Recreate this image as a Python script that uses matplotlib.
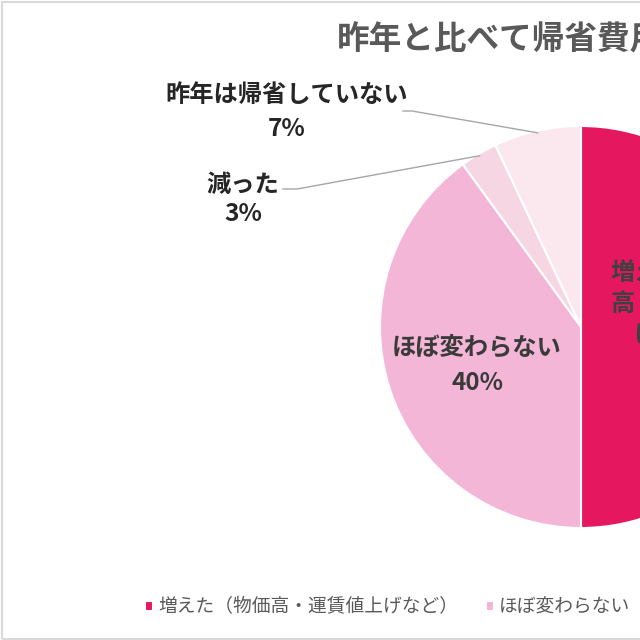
import numpy as np
import matplotlib
matplotlib.use("Agg")
from matplotlib import pyplot as plt
from matplotlib.patches import Rectangle

plt.rcParams['font.family'] = ['Noto Sans CJK JP', 'DejaVu Sans']

# データ
categories = ["増えた（物価高・運賃値上げなど）", "ほぼ変わらない", "減った", "昨年は帰省していない"]
shares = [50, 40, 3, 7]
colors = ["#E5185F", "#F4B6D6", "#F6D6E2", "#FBE8EF"]
title = "昨年と比べて帰省費用は"

fig = plt.figure(figsize=(6.4, 6.4), dpi=100)
ax = fig.add_axes([0, 0, 1, 1])

cx, cy, r = 581, 327, 201
# y軸を反転させるので startangle=-90 が真上、counterclock=True で時計回りに見える
wedges, _ = ax.pie(shares, colors=colors, startangle=-90, counterclock=True,
                   center=(cx, cy), radius=r, frame=True,
                   wedgeprops=dict(edgecolor='white', linewidth=1.5))
ax.set_xlim(0, 640)
ax.set_ylim(640, 0)  # ピクセル座標（上が0）
ax.axis('off')

# 外枠
fig.patches.append(Rectangle((1.5 / 640, 1.5 / 640), 1.2, 1 - 3.5 / 640,
                             transform=fig.transFigure, fill=False,
                             edgecolor='#d9d9d9', linewidth=1.5))

# タイトル
ax.text(337, 40, title, fontsize=23.5, fontweight='bold', color='#595959',
        ha='left', va='center')

lab_kw = dict(fontsize=17.5, fontweight='bold', va='center')

# 増えた（扇の内側）: ブロックの左端を固定し、各行は中央揃え
ax.text(610, 320, "増えた（物価\n高・運賃値上\nげなど）\n" + f"{shares[0]}%",
        color='#404040', linespacing=1.35, ha='left', multialignment='center',
        **lab_kw)

# ほぼ変わらない
ax.text(477, 348, categories[1], color='#3a3a3a', ha='center', **lab_kw)
ax.text(477, 383, f"{shares[1]}%", color='#3a3a3a', ha='center', **lab_kw)

# 減った / 昨年は帰省していない（引き出し線付き）
ax.text(243, 185, categories[2], color='#262626', ha='center', **lab_kw)
ax.text(243, 214, f"{shares[2]}%", color='#262626', ha='center', **lab_kw)
ax.text(287, 95, categories[3], color='#262626', ha='center', **lab_kw)
ax.text(287, 129, f"{shares[3]}%", color='#262626', ha='center', **lab_kw)


def edge_point(w, frac=0.99):
    th = np.deg2rad((w.theta1 + w.theta2) / 2)
    return cx + frac * r * np.cos(th), cy + frac * r * np.sin(th)


ex, ey = edge_point(wedges[2])
ax.plot([283, 297, ex], [189, 189, ey], color='#a6a6a6', lw=1)
ex, ey = edge_point(wedges[3])
ax.plot([403, 412, ex], [111, 111, ey], color='#a6a6a6', lw=1)

# 凡例
leg = fig.legend(wedges, categories, loc='center left',
                 bbox_to_anchor=(145 / 640, 1 - 607 / 640), ncol=4,
                 frameon=False, fontsize=13.5, handlelength=0.42,
                 handleheight=0.42, handletextpad=0.3, columnspacing=1.45,
                 borderaxespad=0, borderpad=0)
for t in leg.get_texts():
    t.set_color('#595959')

fig.savefig("out.png", dpi=100)
